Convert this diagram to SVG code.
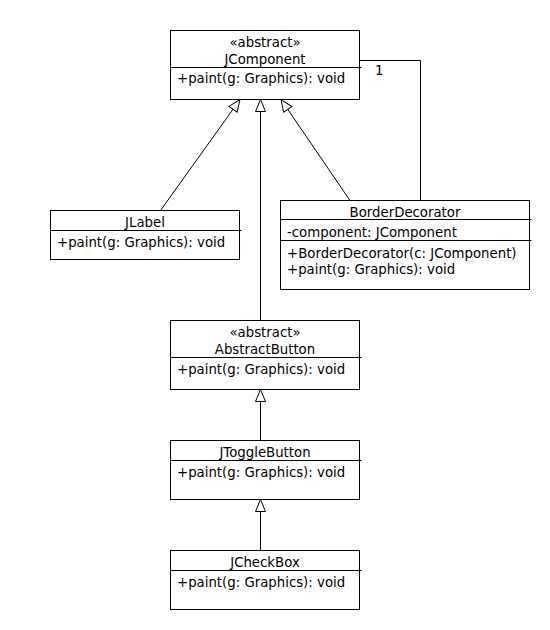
<svg xmlns="http://www.w3.org/2000/svg" width="550" height="630" viewBox="0 0 550 630">
<defs>
<style>
.box{fill:#fff;stroke:#000;stroke-width:1}
.div{stroke:#000;stroke-width:1}
.t{font-family:"DejaVu Sans","Liberation Sans",sans-serif;font-size:13.3px;fill:#000}
.c{text-anchor:middle}
.edge{fill:none;stroke:#000;stroke-width:1}
</style>
<marker id="gen" markerUnits="userSpaceOnUse" markerWidth="14" markerHeight="12" viewBox="-1 -1 14 12" refX="12" refY="5" orient="auto" overflow="visible">
<path d="M0,0 L12,5 L0,10 Z" fill="#fff" stroke="#000" stroke-width="1"/>
</marker>
</defs>
<rect width="550" height="630" fill="#fff"/>
<g id="connectors">
<line class="edge" x1="160.5" y1="210.5" x2="240" y2="99.5" marker-end="url(#gen)"/>
<line class="edge" x1="350" y1="200.5" x2="281" y2="99.5" marker-end="url(#gen)"/>
<line class="edge" x1="260.5" y1="320.5" x2="260.5" y2="99.5" marker-end="url(#gen)"/>
<line class="edge" x1="260.5" y1="440.5" x2="260.5" y2="389.5" marker-end="url(#gen)"/>
<line class="edge" x1="260.5" y1="550.5" x2="260.5" y2="499.5" marker-end="url(#gen)"/>
<polyline class="edge" points="359.5,60.5 420.5,60.5 420.5,200.5"/>
<text class="t" x="375" y="75">1</text>
</g>
<g id="JComponent">
<rect class="box" x="170.5" y="30.5" width="189" height="69"/>
<line class="div" x1="170.5" y1="67.5" x2="361.5" y2="67.5"/>
<text class="t c" x="265" y="46.5">«abstract»</text>
<text class="t c" x="265" y="64">JComponent</text>
<text class="t" x="177" y="83">+paint(g: Graphics): void</text>
</g>
<g id="JLabel">
<rect class="box" x="50.5" y="210.5" width="189" height="49"/>
<line class="div" x1="50.5" y1="230.5" x2="241.5" y2="230.5"/>
<text class="t c" x="145" y="226.5">JLabel</text>
<text class="t" x="57" y="246.5">+paint(g: Graphics): void</text>
</g>
<g id="BorderDecorator">
<rect class="box" x="280.5" y="200.5" width="249" height="89"/>
<line class="div" x1="280.5" y1="219.5" x2="531.5" y2="219.5"/>
<line class="div" x1="280.5" y1="240.5" x2="531.5" y2="240.5"/>
<text class="t c" x="405" y="216.5">BorderDecorator</text>
<text class="t" x="287" y="236.5">-component: JComponent</text>
<text class="t" x="287" y="257.5">+BorderDecorator(c: JComponent)</text>
<text class="t" x="287" y="273.5">+paint(g: Graphics): void</text>
</g>
<g id="AbstractButton">
<rect class="box" x="170.5" y="320.5" width="189" height="69"/>
<line class="div" x1="170.5" y1="357.5" x2="361.5" y2="357.5"/>
<text class="t c" x="265" y="336.5">«abstract»</text>
<text class="t c" x="265" y="354">AbstractButton</text>
<text class="t" x="177" y="373.5">+paint(g: Graphics): void</text>
</g>
<g id="JToggleButton">
<rect class="box" x="170.5" y="440.5" width="189" height="59"/>
<line class="div" x1="170.5" y1="460.5" x2="361.5" y2="460.5"/>
<text class="t c" x="265" y="457">JToggleButton</text>
<text class="t" x="177" y="476.5">+paint(g: Graphics): void</text>
</g>
<g id="JCheckBox">
<rect class="box" x="170.5" y="550.5" width="189" height="59"/>
<line class="div" x1="170.5" y1="570.5" x2="361.5" y2="570.5"/>
<text class="t c" x="265" y="567">JCheckBox</text>
<text class="t" x="177" y="586.5">+paint(g: Graphics): void</text>
</g>
</svg>
